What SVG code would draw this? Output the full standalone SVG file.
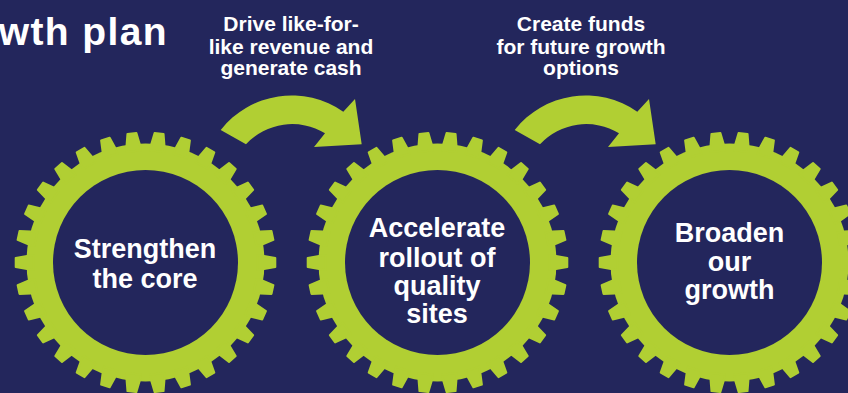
<svg xmlns="http://www.w3.org/2000/svg" xmlns:xlink="http://www.w3.org/1999/xlink" width="848" height="393" viewBox="0 0 848 393">
  <style>
    .bg { fill: #23265c; }
    .green { fill: #b1cf33; }
    .tooth { fill: #b1cf33; stroke: #b1cf33; stroke-width: 2; stroke-linejoin: round; }
    .hub { fill: #23265c; }
    .gt { font-family: "Liberation Sans", Arial, sans-serif; font-weight: bold; font-size: 27px; fill: #ffffff; text-anchor: middle; }
    .lt { font-family: "Liberation Sans", Arial, sans-serif; font-weight: bold; font-size: 21px; fill: #ffffff; text-anchor: middle; }
    .title { font-family: "Liberation Sans", Arial, sans-serif; font-weight: bold; font-size: 39px; letter-spacing: 1.4px; fill: #ffffff; text-anchor: end; }
  </style>
  <defs>
    <polygon id="tooth" class="tooth" points="112,-7 118.5,-6.6 129.8,-4.5 129.8,4.5 118.5,6.6 112,7"/>
    <g id="gear">
      <circle class="green" cx="0" cy="0" r="119"/>
      <use xlink:href="#tooth" href="#tooth" transform="rotate(0)"/>
      <use xlink:href="#tooth" href="#tooth" transform="rotate(12)"/>
      <use xlink:href="#tooth" href="#tooth" transform="rotate(24)"/>
      <use xlink:href="#tooth" href="#tooth" transform="rotate(36)"/>
      <use xlink:href="#tooth" href="#tooth" transform="rotate(48)"/>
      <use xlink:href="#tooth" href="#tooth" transform="rotate(60)"/>
      <use xlink:href="#tooth" href="#tooth" transform="rotate(72)"/>
      <use xlink:href="#tooth" href="#tooth" transform="rotate(84)"/>
      <use xlink:href="#tooth" href="#tooth" transform="rotate(96)"/>
      <use xlink:href="#tooth" href="#tooth" transform="rotate(108)"/>
      <use xlink:href="#tooth" href="#tooth" transform="rotate(120)"/>
      <use xlink:href="#tooth" href="#tooth" transform="rotate(132)"/>
      <use xlink:href="#tooth" href="#tooth" transform="rotate(144)"/>
      <use xlink:href="#tooth" href="#tooth" transform="rotate(156)"/>
      <use xlink:href="#tooth" href="#tooth" transform="rotate(168)"/>
      <use xlink:href="#tooth" href="#tooth" transform="rotate(180)"/>
      <use xlink:href="#tooth" href="#tooth" transform="rotate(192)"/>
      <use xlink:href="#tooth" href="#tooth" transform="rotate(204)"/>
      <use xlink:href="#tooth" href="#tooth" transform="rotate(216)"/>
      <use xlink:href="#tooth" href="#tooth" transform="rotate(228)"/>
      <use xlink:href="#tooth" href="#tooth" transform="rotate(240)"/>
      <use xlink:href="#tooth" href="#tooth" transform="rotate(252)"/>
      <use xlink:href="#tooth" href="#tooth" transform="rotate(264)"/>
      <use xlink:href="#tooth" href="#tooth" transform="rotate(276)"/>
      <use xlink:href="#tooth" href="#tooth" transform="rotate(288)"/>
      <use xlink:href="#tooth" href="#tooth" transform="rotate(300)"/>
      <use xlink:href="#tooth" href="#tooth" transform="rotate(312)"/>
      <use xlink:href="#tooth" href="#tooth" transform="rotate(324)"/>
      <use xlink:href="#tooth" href="#tooth" transform="rotate(336)"/>
      <use xlink:href="#tooth" href="#tooth" transform="rotate(348)"/>
      <circle class="hub" cx="0" cy="0" r="92.5"/>
    </g>
    <path id="arrow" class="green" d="M 220.7,130 A 90 90 0 0 1 343.3,111.7 L 355,99 L 361.7,144.3 L 314,147 L 325,133.3 A 63 63 0 0 0 246,144.3 Z"/>
  </defs>

  <rect class="bg" x="0" y="0" width="848" height="393"/>

  <g id="title">
    <text class="title" x="168" y="45">wth plan</text>
  </g>

  <g id="node-strengthen">
    <use xlink:href="#gear" href="#gear" transform="translate(145.5,262.5)"/>
    <text class="gt" x="145" y="258.3">Strengthen</text>
    <text class="gt" x="145" y="287.7">the core</text>
  </g>

  <g id="node-accelerate">
    <use xlink:href="#gear" href="#gear" transform="translate(437.5,262.5)"/>
    <text class="gt" x="437" y="237.3">Accelerate</text>
    <text class="gt" x="437" y="266.7">rollout of</text>
    <text class="gt" x="437" y="295">quality</text>
    <text class="gt" x="437" y="323.3">sites</text>
  </g>

  <g id="node-broaden">
    <use xlink:href="#gear" href="#gear" transform="translate(729.5,262.5)"/>
    <text class="gt" x="729.5" y="241.7">Broaden</text>
    <text class="gt" x="729.5" y="270.7">our</text>
    <text class="gt" x="729.5" y="299">growth</text>
  </g>

  <g id="connectors">
    <g id="connector-1">
      <use xlink:href="#arrow" href="#arrow"/>
      <text class="lt" x="291" y="30.7">Drive like-for-</text>
      <text class="lt" x="291" y="53.5">like revenue and</text>
      <text class="lt" x="291" y="75">generate cash</text>
    </g>
    <g id="connector-2">
      <use xlink:href="#arrow" href="#arrow" transform="translate(294,0)"/>
      <text class="lt" x="581" y="30.7">Create funds</text>
      <text class="lt" x="581" y="53.5">for future growth</text>
      <text class="lt" x="581" y="75">options</text>
    </g>
  </g>
</svg>
